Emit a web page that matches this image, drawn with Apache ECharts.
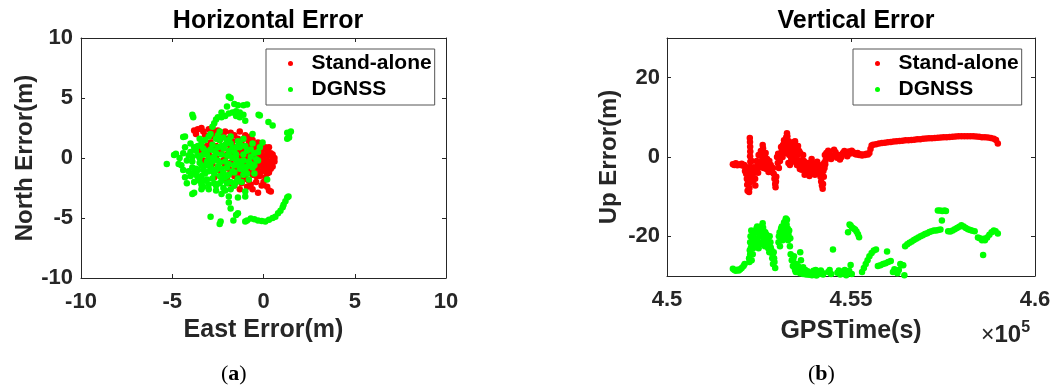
<!DOCTYPE html>
<html>
<head>
<meta charset="utf-8">
<script src="https://cdn.jsdelivr.net/npm/echarts@6/dist/echarts.min.js"></script>
<style>
  html, body { margin: 0; padding: 0; background: #fff; }
  #chart { width: 1055px; height: 390px; }
</style>
</head>
<body>
<div id="chart"></div>
<script>
// ---- data ----
const seriesNames = ['Stand-alone', 'DGNSS'];

// Horizontal error points: [East (m), North (m)]
const horizStandalone = [
  [-3.8,2.3],[-3.7,2.0],[-3.4,2.5],[-3.3,2.2],[-3.0,2.4],[-2.8,2.5],[-2.7,2.1],[-2.5,2.3],[-2.3,1.9],[-2.1,2.2],
  [-1.9,1.6],[-1.6,1.9],[-1.4,1.6],[-1.2,1.4],[-0.9,1.6],[-1.3,2.2],[-0.8,1.2],
  [-1.6,0.9],[-1.4,0.6],[-1.2,0.9],[-1.0,0.5],[-0.8,0.8],[-0.6,0.4],[-0.4,0.7],[-0.2,0.5],[0.0,0.8],[0.2,0.6],
  [0.3,0.2],[0.5,-0.1],[0.6,-0.3],[0.4,-0.5],[0.2,-0.2],[0.0,0.1],[-0.2,-0.1],[-0.4,0.2],[-0.6,-0.1],[-0.8,0.1],
  [-1.0,-0.2],[-1.2,0.1],[-1.4,-0.3],[-1.6,0.2],[-1.8,-0.4],[-2.0,0.3],[-2.2,-0.2],[-2.4,0.5],[-2.6,0.0],[-2.8,-0.5],
  [-3.0,0.3],[-3.2,-0.6],[-1.1,-0.6],[-0.9,-0.9],[-0.7,-0.6],[-0.5,-1.0],[-0.3,-0.7],[-0.1,-1.1],[0.1,-0.8],[0.3,-1.2],
  [-1.3,-1.0],[-1.5,-0.8],[-1.7,-1.2],[-1.9,-0.9],[-0.6,-1.4],[-0.2,-1.5],[0.1,-1.6],[-1.0,-1.5],[-1.4,-1.6],[-0.8,-1.9],
  [-0.4,-2.0],[-1.2,-2.1],[-1.6,-2.3],[-1.3,-2.6],[-0.7,-2.2],[-0.3,-2.9],[0.4,-2.8],[0.3,-2.7],[-2.0,-1.8],[-2.3,-1.4],
  [-2.5,-1.0],[-2.7,-1.6],[-3.3,-0.2],[-3.5,0.6],[-3.1,1.0],[-2.9,1.3],[-2.6,1.0],[-2.2,0.8],[-1.9,1.1],[-1.7,1.4],
  [-0.5,1.0],[-0.3,1.3],[0.1,0.9],[0.4,0.4],[-0.6,-2.6],[-0.1,-2.3],[-1.9,-2.1],[0.5,-0.7],[0.6,0.0],[0.3,0.9],
  [-0.1,0.3],[-0.7,0.0],[-0.9,-0.4],[-1.1,0.3],[-1.3,0.6],[-1.5,-0.1],[-2.1,-0.6],[-2.4,-0.9],[-0.2,-0.4],[0.0,-0.6],
  [0.2,-1.0],[-0.4,-0.8],[-0.8,-1.2],[-1.2,-1.3],[-2.8,1.8],[-2.4,1.5],[-2.0,1.6],[-1.0,1.9],[-0.6,1.5],
  [-1.5,0.4],[-1.3,-0.2],[-1.1,0.7],[-0.9,0.2],[-0.7,0.5],[-0.5,-0.3],[-0.3,0.1],[-0.1,0.6],[0.1,-0.3],[0.3,-0.5],
  [0.5,0.3],[0.4,-0.9],[0.2,-1.3],[0.0,-0.9],[-0.2,-1.2],[-0.4,-1.5],[-0.6,-1.1],[-0.8,-0.7],[-1.0,-1.0],[-1.2,-0.4],
  [-1.4,-1.2],[-1.6,-1.5],[-0.9,-2.4],[-1.1,-1.8],[0.0,-2.0],[0.2,-2.4],[-2.2,2.0],[-3.6,2.4],[-3.2,1.9],[-1.8,2.1],
  [-0.7,1.8],[-0.2,1.0],[0.2,0.3],[-1.7,0.6],[-2.1,0.0]
];

const horizDGNSS = [
  [-2.8,2.6],[-2.7,2.9],[-2.6,3.2],[-2.5,3.4],[-2.3,3.4],[-2.1,3.5],[-1.9,3.7],[-1.7,3.8],[-1.5,3.9],[-1.3,3.8],
  [-1.1,3.6],[-1.3,3.4],[-1.5,3.5],[-2.0,4.3],[-1.9,5.1],[-1.8,5.0],[-1.6,4.5],[-1.4,4.4],[-1.1,4.4],[-0.9,4.45],
  [-2.3,3.8],[-0.27,3.6],[-0.2,3.55],[0.27,3.0],[0.5,2.7],[-3.9,3.6],[-3.85,3.4],[1.3,2.1],[1.4,2.0],[1.5,2.2],
  [1.3,1.6],[1.4,1.7],[-0.05,1.3],[-1.0,3.1],[-2.4,2.2],[-0.6,2.0],
  [-5.3,-0.5],[-4.9,0.25],[-4.8,0.35],[-4.4,1.75],[-4.3,1.8],[-4.4,0.4],[-4.65,-0.5],[-4.5,-0.6],[-4.3,-1.6],[-4.2,-2.1],
  [-3.8,-2.9],[-3.9,-3.0],[-3.3,-2.4],[-3.4,-2.6],
  [-1.9,-3.7],[-1.8,-4.2],[-1.5,-4.75],[-1.4,-4.6],[-2.9,-4.9],[-2.35,-5.3],[-2.4,-5.5],[-1.65,-5.2],[-1.0,-5.3],[-0.9,-5.2],
  [-0.7,-5.05],[-0.5,-5.1],[-0.3,-5.2],[-0.1,-5.25],[0.1,-5.3],[0.3,-5.15],[0.5,-5.0],[0.65,-4.9],[0.8,-4.6],[0.93,-4.4],
  [1.05,-4.1],[1.1,-3.9],[1.2,-3.6],[1.3,-3.3],[1.37,-3.2],[-1.0,-2.8],[-1.0,-3.2],[-1.4,-3.3],[-1.9,-3.2],[-2.3,-3.0],
  [-2.1,-2.7],[0.2,-1.8],[-0.3,-0.2],
  [-4.2,-0.2],[-4.0,0.5],[-3.9,-0.8],[-3.8,0.9],[-3.7,-1.4],[-3.6,0.2],[-3.5,-0.4],[-3.4,1.2],[-3.3,-1.0],[-3.2,0.6],
  [-3.1,-1.8],[-3.0,0.0],[-2.9,-0.7],[-2.8,1.1],[-2.7,-1.3],[-2.6,0.4],[-2.5,-0.2],[-2.4,1.5],[-2.3,-0.9],[-2.2,0.8],
  [-2.1,-1.6],[-2.0,0.2],[-1.9,-0.5],[-1.8,1.2],[-1.7,-1.1],[-1.6,0.5],[-1.5,-0.1],[-1.4,-1.7],[-1.3,0.9],[-1.2,-0.6],
  [-1.1,0.3],[-1.0,-1.1],[-0.9,0.6],[-0.8,-0.3],[-0.7,0.1],[-0.6,-0.8],[-0.5,0.4],[-4.1,-1.1],[-3.9,0.1],[-3.7,0.6],
  [-3.5,-1.9],[-3.3,0.3],[-3.1,-0.3],[-2.9,0.7],[-2.7,-2.1],[-2.5,0.9],[-2.3,-1.9],[-2.1,1.1],[-1.9,-1.4],[-1.7,0.0],
  [-1.5,-2.0],[-1.3,-0.3],[-1.1,-1.4],[-0.9,-0.7],[-2.2,-2.5],[-2.6,-2.3],[-3.0,-2.2],[-2.8,-1.0],[-2.4,-0.4],[-2.0,-0.8],
  [-1.6,-0.6],[-1.2,-0.9],[-3.6,-1.0],[-3.2,-1.3],[-2.6,1.6],[-2.2,1.7],[-1.8,1.8],[-1.4,1.4],[-1.0,1.0],[-0.7,0.7],
  [-0.4,-0.1],[-0.5,-1.3],[-0.8,-1.8],[-1.2,-2.0],[-1.6,-2.3],[-2.0,-2.1],[-2.4,-1.5],[-2.8,-0.3],[-3.2,1.5],[-3.6,1.0],
  [-4.0,-1.5],[-3.8,-2.0],[-3.4,-2.2],[-3.0,1.8],[-2.0,1.4],[-1.5,0.9],[-1.9,0.6],[-2.3,0.3],[-2.7,0.1],[-3.1,-0.6],
  [-3.4,-1.5],[-0.3,0.5],[-0.2,0.9],[-0.6,1.2],
  [-4.3,0.9],[-4.1,0.2],[-3.9,-0.3],[-3.7,-0.9],[-3.5,0.0],[-3.3,0.8],[-3.1,0.3],[-2.9,-0.2],[-2.7,0.6],[-2.5,-0.7],
  [-2.3,1.0],[-2.1,-0.3],[-1.9,0.2],[-1.7,0.8],[-1.5,0.3],[-1.3,-0.9],[-1.1,-0.2],[-0.9,-1.3],[-0.7,-0.5],[-0.5,-0.6],
  [-3.8,-1.2],[-3.6,-1.6],[-3.4,-0.6],[-3.2,-1.9],[-3.0,-1.1],[-2.8,-1.7],[-2.6,-1.0],[-2.4,-2.1],[-2.2,-1.2],[-2.0,-1.5],
  [-1.8,-2.0],[-1.6,-1.2],[-1.4,-0.5],[-2.9,2.0],[-2.5,1.9],[-1.9,1.5],[-1.3,1.2],[-1.1,1.6],[-3.5,1.6],[-4.0,1.2],
  [-2.6,-2.7],[-1.8,-2.6],[-3.0,-2.6],[-4.4,-1.0],[-4.6,0.0]
];

// Vertical error points: [GPS time (s), Up error (m)]
const vertStandalone = [
  [451790,-1.8],[451830,-2.0],[451870,-1.6],[451910,-2.1],[451950,-1.9],[451990,-2.0],[452030,-1.7],[452070,-2.2],
  [452100,-2.0],[452120,-3.5],
  [452150,-4.2],[452170,-5.5],[452180,-7.0],[452190,-8.5],[452160,-3.0],[452140,-2.5],[452200,-6.0],[452210,-4.8],
  [452250,4.8],[452255,3.8],[452260,2.6],[452262,1.4],[452258,0.2],[452265,-1.2],[452260,-2.5],[452255,-3.8],
  [452262,-5.2],[452250,-6.5],[452240,-7.8],[452230,-8.8],[452280,-3.0],[452300,-1.0],[452320,-4.5],
  [452360,-2.6],[452380,-4.0],[452395,-5.5],[452400,-7.2],[452420,-3.2],[452340,-6.0],[452440,-1.0],[452475,-4.0],
  [452460,-1.5],[452490,0.5],[452520,-2.5],[452550,1.5],[452580,-0.8],[452600,3.0],[452610,2.2],[452630,0.0],
  [452650,-1.8],[452680,1.0],[452700,-3.0],[452720,-0.5],[452750,-2.0],[452780,-1.0],[452800,-3.2],
  [452530,0.5],[452560,-1.8],[452590,1.0],[452620,-2.8],[452660,0.3],[452690,-1.0],[452730,-2.5],[452760,-3.8],
  [452820,-2.0],[452850,-3.8],[452880,-2.8],
  [452900,-4.2],[452920,-5.5],[452940,-6.8],[452950,-7.6],[452970,-5.0],[452960,-6.2],
  [452990,0.0],[453010,-1.5],[453040,-2.8],[453070,-1.0],[453020,0.8],[453050,-0.5],[453090,0.3],
  [453120,1.5],[453150,3.0],[453180,4.2],[453210,2.0],[453240,5.0],[453260,6.0],[453270,5.2],[453290,3.5],
  [453320,0.5],[453350,2.2],[453380,-0.5],[453400,1.5],[453300,-1.5],[453340,-2.0],
  [453100,2.5],[453140,0.0],[453170,2.2],[453200,3.6],[453230,1.0],[453250,3.0],[453280,2.0],[453310,4.0],
  [453330,1.2],[453360,3.5],[453370,0.0],[453410,-1.2],[453430,2.0],[453460,0.5],[453470,2.5],[453490,-0.5],
  [453450,3.8],[453480,4.0],[453500,2.5],[453520,0.8],[453540,-1.0],[453560,2.8],[453600,-2.4],[453620,1.0],
  [453650,-0.8],[453680,-2.0],[453700,0.5],
  [453510,1.8],[453530,-2.0],[453550,0.5],[453580,-1.2],[453590,1.5],[453610,-3.0],[453640,-1.8],[453660,-3.2],
  [453690,-1.0],[453710,-2.8],[453740,-4.5],[453770,-2.2],[453800,-3.5],[453830,-2.0],[453860,-1.5],[453890,-3.8],
  [453920,-2.8],[453950,-1.5],[453980,-4.2],[454010,-2.5],[454040,-1.8],[454070,-3.8],[454100,-3.8],[454130,-2.0],
  [454160,-3.2],[454200,-4.8],[454240,-6.8],[454260,-5.0],[454280,-2.8],[454300,-1.8],[454350,0.0],[454400,1.2],[454440,0.2],
  [453720,-1.0],[453750,-2.8],[453780,-4.0],[453810,-1.5],[453840,-3.2],[453870,-4.8],[453900,-2.2],[453930,-0.5],
  [453960,-3.5],[453990,-2.0],[454020,-4.5],[454050,-3.0],[454080,-1.2],[454110,-2.8],[454140,-4.2],[454170,-5.0],
  [454190,-6.2],[454210,-7.2],[454230,-8.0],[454250,-3.5],[454270,-1.5],[454290,0.5],[454310,-0.8],[454330,1.0],
  [454380,1.6],[454420,0.8],[454460,-0.5],[454500,0.2],[454540,1.8],[454580,1.2],[454620,-0.2],[454660,0.5],
  [454700,-0.6],[454740,0.0],[454780,1.0],[454820,1.5],[454860,0.8],[454900,0.2],[454940,1.4],[454980,0.9],
  [455020,1.6],[455060,1.2],[455100,0.8],[455140,0.6],[455180,1.0],[455220,0.5],[455260,0.7],[455300,0.4],
  [455340,0.6],[455380,0.5],[455420,0.8],[455460,0.6],[455500,1.0],[455530,2.0],[455560,2.9],
  [455600,3.1],[455680,3.2],[455760,3.4],[455840,3.5],[455920,3.6],[456000,3.7],[456080,3.8],[456160,3.9],
  [456240,4.0],[456320,4.05],[456400,4.1],[456480,4.2],[456560,4.25],[456640,4.3],[456720,4.35],[456800,4.45],
  [456880,4.5],[456960,4.6],[457040,4.65],[457120,4.7],[457200,4.75],[457280,4.8],[457360,4.85],[457440,4.9],
  [457520,4.95],[457600,5.0],[457680,5.05],[457760,5.1],[457840,5.15],[457920,5.2],[458000,5.2],[458080,5.25],
  [458160,5.25],[458240,5.25],[458320,5.2],[458400,5.15],[458480,5.1],[458560,5.0],[458640,4.95],[458720,4.9],
  [458800,4.8],[458880,4.6],[458940,4.3],[458990,3.4]
];

const vertDGNSS = [
  [451790,-28.2],[451830,-28.5],[451870,-28.7],[451910,-28.4],[451950,-28.6],[451990,-28.3],[452030,-28.0],[452080,-27.5],[452110,-27.0],
  [452230,-25.5],[452250,-23.5],[452260,-21.5],[452270,-20.0],[452290,-18.5],[452310,-22.0],[452330,-24.5],[452350,-19.5],
  [452380,-21.0],[452240,-26.5],[452300,-26.0],
  [452260,-24.5],[452280,-22.8],[452320,-20.5],[452340,-23.0],[452400,-19.0],[452420,-22.0],[452450,-17.5],[452480,-21.5],
  [452430,-18.0],[452460,-20.5],[452490,-23.0],[452520,-19.0],[452550,-17.5],[452580,-21.5],[452600,-16.7],[452620,-18.5],
  [452640,-20.5],[452660,-22.5],[452690,-19.5],[452720,-21.0],[452750,-23.0],[452780,-24.0],[452810,-21.5],[452840,-23.5],
  [452510,-20.0],[452540,-22.0],[452570,-18.5],[452590,-20.0],[452610,-17.8],[452630,-22.0],[452670,-19.0],[452700,-21.8],
  [452730,-19.8],[452760,-22.0],[452790,-20.0],[452820,-22.8],[452870,-24.5],[452910,-25.5],
  [452860,-25.5],[452880,-27.0],[452900,-24.0],[452920,-26.5],[452940,-28.0],
  [453030,-21.5],[453060,-19.0],[453090,-20.5],[453120,-17.5],[453150,-19.5],[453180,-16.5],[453210,-18.0],[453230,-15.5],
  [453250,-17.0],[453270,-20.0],[453290,-21.0],[453320,-18.5],[453350,-20.5],
  [453040,-20.0],[453070,-22.5],[453100,-18.0],[453140,-21.0],[453170,-18.5],[453200,-20.0],[453220,-16.0],[453240,-19.0],
  [453260,-15.8],[453280,-18.0],[453300,-19.5],[453340,-22.5],
  [453360,-24.5],[453390,-26.0],[453420,-27.5],[453450,-25.0],[453480,-28.5],[453510,-27.0],[453540,-29.0],[453580,-28.0],
  [453620,-29.3],[453660,-28.5],[453700,-29.5],[453740,-29.0],
  [453430,-25.8],[453460,-27.8],[453500,-29.0],[453560,-27.5],[453600,-28.8],[453680,-28.3],[453760,-28.5],
  [453620,-24.0],[453640,-26.0],[453700,-27.8],[453780,-29.6],[453820,-28.8],[453860,-29.7],[453900,-29.2],[453940,-29.8],
  [453980,-28.7],[454020,-29.4],[454060,-29.9],[454100,-29.0],[454140,-29.5],[454180,-28.6],[454220,-29.3],
  [454000,-29.5],[454040,-28.5],[454080,-29.2],[454120,-28.8],[454200,-29.0],[454240,-29.6],
  [454380,-29.0],[454420,-28.5],[454460,-29.5],[454510,-23.3],
  [454630,-29.2],[454670,-28.6],[454710,-29.6],[454750,-28.9],[454790,-29.4],[454830,-28.5],[454870,-29.8],[454910,-29.0],
  [454950,-28.7],[454990,-27.2],[455020,-29.5],
  [454920,-19.0],[454960,-17.0],[454990,-17.3],[455030,-17.8],[455070,-18.0],[455110,-18.3],[455150,-18.8],[455190,-19.5],[455220,-20.2],
  [455300,-29.0],[455350,-28.0],[455400,-27.0],[455450,-26.0],[455500,-25.0],[455560,-24.2],[455620,-23.6],[455680,-23.3],
  [455980,-23.8],
  [455730,-27.5],[455800,-27.3],[455870,-27.0],[455940,-26.8],[456010,-26.5],[456080,-26.2],
  [456140,-29.0],[456180,-28.3],[456220,-28.8],[456260,-29.3],[456300,-28.5],[456340,-27.0],[456380,-27.2],[456420,-27.3],[456450,-29.8],
  [456470,-22.5],[456530,-22.0],[456590,-21.6],[456650,-21.3],[456710,-20.9],[456770,-20.6],[456830,-20.3],[456890,-20.0],
  [456950,-19.7],[457010,-19.4],[457070,-19.2],[457130,-18.9],[457190,-18.7],[457250,-18.5],[457310,-18.5],[457370,-18.4],[457430,-18.3],
  [457360,-13.5],[457420,-13.5],[457480,-13.6],[457540,-13.5],[457580,-13.6],[457470,-16.0],
  [457640,-18.7],[457700,-18.8],[457760,-18.5],[457820,-18.2],[457880,-17.9],[457940,-17.6],[458000,-17.2],[458060,-17.5],
  [458120,-17.9],[458180,-18.2],[458240,-18.4],[458300,-18.6],[458360,-18.7],
  [458450,-20.3],[458500,-20.5],[458560,-21.0],[458610,-20.6],[458590,-24.7],
  [458640,-21.0],[458700,-20.3],[458760,-19.6],[458820,-19.0],[458880,-18.5],[458930,-18.7],[458990,-19.3]
];

// tick values
const horizTicks = [-10, -5, 0, 5, 10];
const upTicks = [-20, 0, 20];
const timeTicks = [450000, 455000, 460000];

// ---- styling helpers ----
const INK = '#262626';
const FONT = '"Liberation Sans", Arial, sans-serif';
const RED = '#ff0000';
const GREEN = '#00ff00';
const DOT = 6.5;

function frameAxis(extra) {
  return Object.assign({
    type: 'value',
    axisLine: { show: true, onZero: false, lineStyle: { color: INK, width: 1 } },
    axisTick: { show: true, inside: true, length: 4, lineStyle: { color: INK } },
    splitLine: { show: false },
    axisLabel: { show: false }
  }, extra);
}
const labelStyle = { show: true, color: INK, fontFamily: FONT, fontWeight: 'bold', fontSize: 22 };
const xNameStyle = { color: INK, fontFamily: FONT, fontWeight: 'bold', fontSize: 25 };
const yNameStyle = { color: INK, fontFamily: FONT, fontWeight: 'bold', fontSize: 24 };

const chart = echarts.init(document.getElementById('chart'), null, { renderer: 'canvas' });

const legendBase = {
  orient: 'vertical',
  data: seriesNames,
  itemWidth: 32,
  itemHeight: 5,
  itemGap: 5,
  padding: [4, 3, 5, 22],
  borderColor: '#555',
  borderWidth: 1,
  backgroundColor: '#fff',
  selectedMode: false,
  textStyle: { color: '#000', fontFamily: FONT, fontWeight: 'bold', fontSize: 21, lineHeight: 20 }
};

function scatter(nameIdx, axisIdx, data, color) {
  return { name: seriesNames[nameIdx], type: 'scatter', xAxisIndex: axisIdx, yAxisIndex: axisIdx, data: data,
    symbol: 'circle', symbolSize: DOT, itemStyle: { color: color, opacity: 1 }, emphasis: { disabled: true } };
}

chart.setOption({
  animation: false,
  backgroundColor: '#fff',
  title: [
    { text: 'Horizontal Error', left: 263, top: 4, textAlign: 'center',
      textStyle: { color: '#000', fontFamily: FONT, fontWeight: 'bold', fontSize: 25 } },
    { text: 'Vertical Error', left: 851, top: 4, textAlign: 'center',
      textStyle: { color: '#000', fontFamily: FONT, fontWeight: 'bold', fontSize: 25 } }
  ],
  legend: [
    Object.assign({}, legendBase, { left: 266, top: 49 }),
    Object.assign({}, legendBase, { left: 853, top: 49 })
  ],
  grid: [
    { left: 81, top: 38, width: 365, height: 240, containLabel: false },
    { left: 667, top: 38, width: 368, height: 238, containLabel: false }
  ],
  xAxis: [
    frameAxis({ gridIndex: 0, position: 'bottom', min: horizTicks[0], max: horizTicks[horizTicks.length - 1], interval: 5,
      axisLabel: Object.assign({}, labelStyle, { margin: 13 }),
      name: 'East Error(m)', nameLocation: 'middle', nameGap: 40, nameTextStyle: xNameStyle }),
    frameAxis({ gridIndex: 0, position: 'top', min: horizTicks[0], max: horizTicks[horizTicks.length - 1], interval: 5 }),
    frameAxis({ gridIndex: 1, position: 'bottom', min: timeTicks[0], max: timeTicks[timeTicks.length - 1], interval: 5000,
      axisLabel: Object.assign({}, labelStyle, { margin: 13, formatter: v => String(+(v / 1e5).toFixed(2)) }),
      name: 'GPSTime(s)', nameLocation: 'middle', nameGap: 43, nameTextStyle: xNameStyle }),
    frameAxis({ gridIndex: 1, position: 'top', min: timeTicks[0], max: timeTicks[timeTicks.length - 1], interval: 5000 })
  ],
  yAxis: [
    frameAxis({ gridIndex: 0, position: 'left', min: horizTicks[0], max: horizTicks[horizTicks.length - 1], interval: 5,
      axisLabel: Object.assign({}, labelStyle, { margin: 8 }),
      name: 'North Error(m)', nameLocation: 'middle', nameGap: 44, nameTextStyle: yNameStyle }),
    frameAxis({ gridIndex: 0, position: 'right', min: horizTicks[0], max: horizTicks[horizTicks.length - 1], interval: 5 }),
    frameAxis({ gridIndex: 1, position: 'left', min: -30, max: 30,
      axisTick: { show: true, inside: true, length: 4, lineStyle: { color: INK }, customValues: upTicks },
      axisLabel: Object.assign({}, labelStyle, { margin: 7, customValues: upTicks }),
      name: 'Up Error(m)', nameLocation: 'middle', nameGap: 46, nameTextStyle: yNameStyle }),
    frameAxis({ gridIndex: 1, position: 'right', min: -30, max: 30,
      axisTick: { show: true, inside: true, length: 4, lineStyle: { color: INK }, customValues: upTicks } })
  ],
  series: [
    scatter(0, 0, horizStandalone, RED),
    scatter(1, 0, horizDGNSS, GREEN),
    // vertical panel uses axis pair 2 (bottom x / left y)
    Object.assign(scatter(0, 0, vertStandalone, RED), { xAxisIndex: 2, yAxisIndex: 2 }),
    Object.assign(scatter(1, 0, vertDGNSS, GREEN), { xAxisIndex: 2, yAxisIndex: 2 })
  ],
  graphic: [
    { type: 'text', left: 981, top: 320, style: {
        text: '{x|×}{n|10}{e|5}', fill: INK,
        rich: {
          x: { fontFamily: FONT, fontSize: 23, fill: INK, verticalAlign: 'bottom' },
          n: { fontFamily: FONT, fontSize: 24, fontWeight: 'bold', fill: INK, verticalAlign: 'bottom' },
          e: { fontFamily: FONT, fontSize: 16, fontWeight: 'bold', fill: INK, verticalAlign: 'top', padding: [0, 0, 11, 0] }
        } } },
    { type: 'text', left: 221, top: 363, style: {
        text: '({b|a})', fill: '#000', font: '22px "Liberation Serif", serif',
        rich: { b: { fontFamily: '"Liberation Serif", serif', fontSize: 22, fontWeight: 'bold', fill: '#000' } } } },
    { type: 'text', left: 808, top: 363, style: {
        text: '({b|b})', fill: '#000', font: '22px "Liberation Serif", serif',
        rich: { b: { fontFamily: '"Liberation Serif", serif', fontSize: 22, fontWeight: 'bold', fill: '#000' } } } }
  ]
});
</script>
</body>
</html>
